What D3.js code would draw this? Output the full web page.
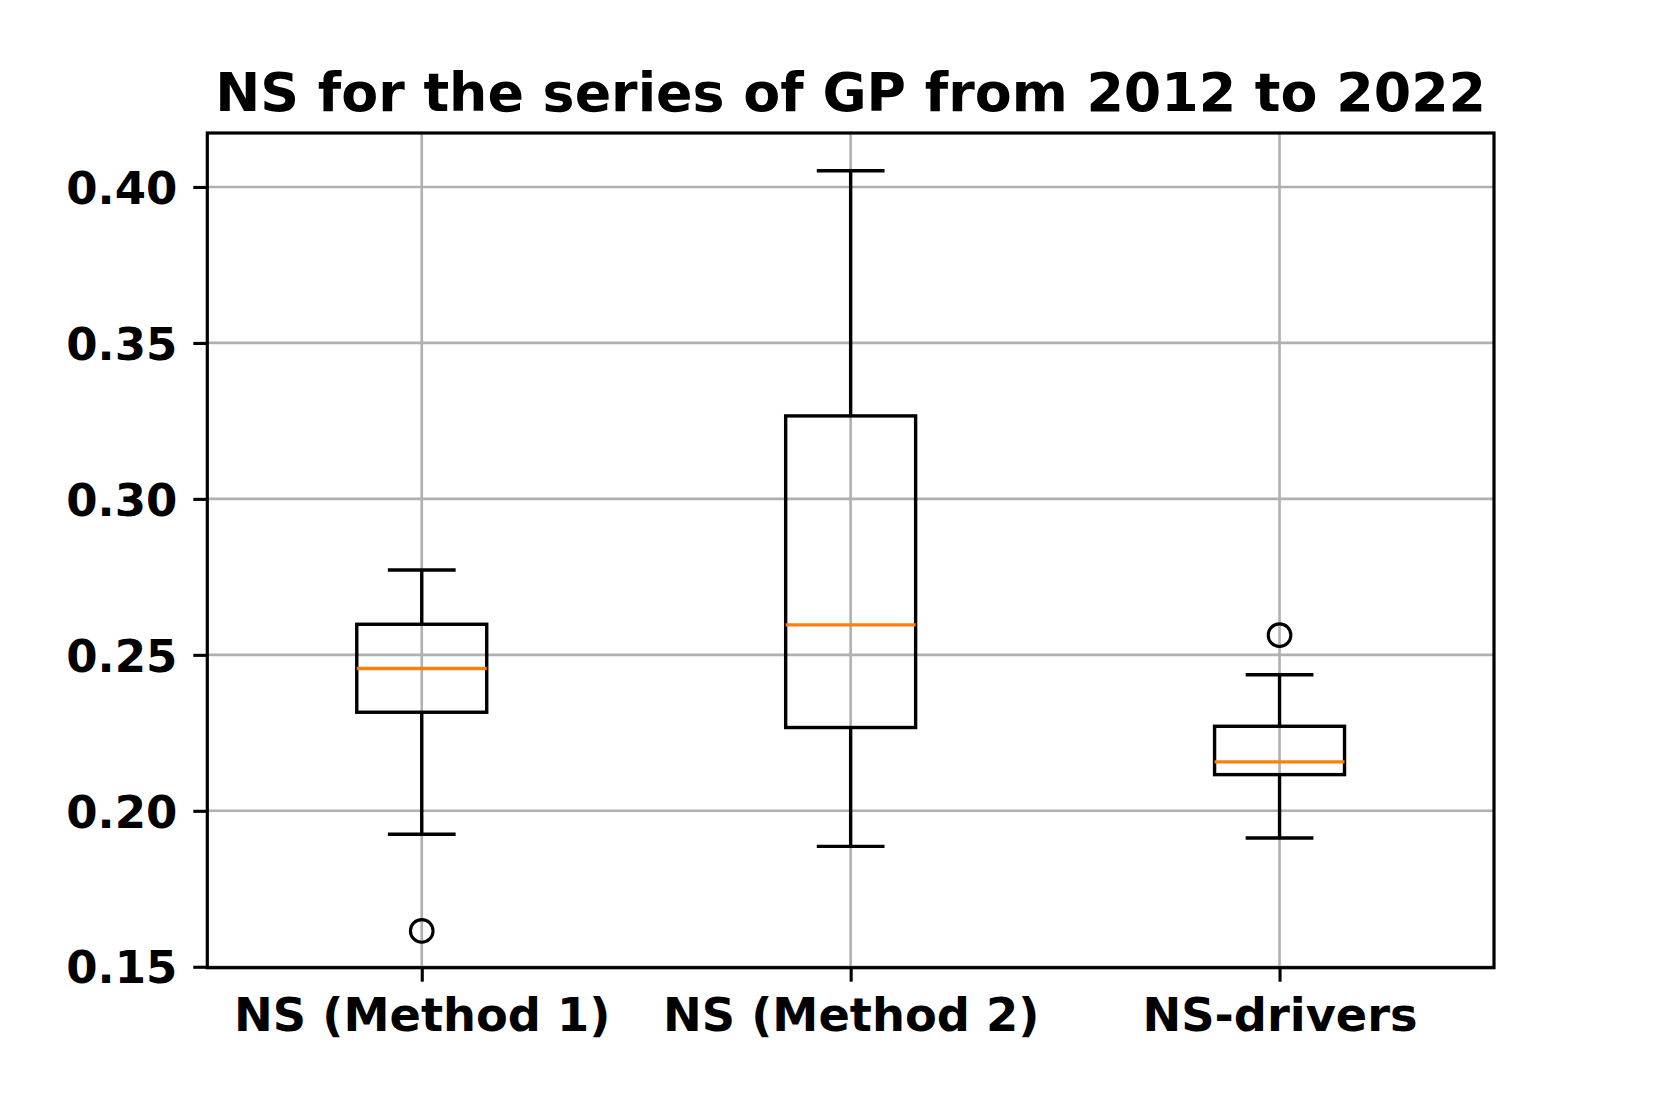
<!DOCTYPE html>
<html>
<head>
<meta charset="utf-8">
<script src="https://cdn.jsdelivr.net/npm/d3@7"></script>
<style>
  html, body { margin: 0; padding: 0; background: #ffffff; }
  svg { display: block; }
  text { font-family: "DejaVu Sans", sans-serif; font-weight: bold; fill: #000; }
</style>
</head>
<body>
<svg id="chart" width="1661" height="1107"></svg>
<script>
// ---- Data ----
const categories   = ["NS (Method 1)", "NS (Method 2)", "NS-drivers"];
const whiskerHigh  = [0.2772, 0.4052, 0.2436];
const q3Values     = [0.2598, 0.3266, 0.2271];
const medianValues = [0.2456, 0.2596, 0.2157];
const q1Values     = [0.2316, 0.2267, 0.2116];
const whiskerLow   = [0.1925, 0.1886, 0.1913];
const outliers     = [[0.1615], [], [0.2563]];
const yTickValues  = [0.15, 0.20, 0.25, 0.30, 0.35, 0.40];
const titleText    = "NS for the series of GP from 2012 to 2022";

// ---- Layout ----
const plot = { left: 207.3, right: 1494, top: 133, bottom: 967.7 };
const boxWidth = 0.303;   // in x-units
const capWidth = 0.158;

const svg = d3.select("#chart");

const x = d3.scaleLinear().domain([0.5, 3.5]).range([plot.left, plot.right]);
const y = d3.scaleLinear().domain([0.1497, 0.4173]).range([plot.bottom, plot.top]);

const positions = categories.map((c, i) => i + 1);

// Grid
const grid = svg.append("g");
grid.selectAll("line.hg").data(yTickValues).join("line")
  .attr("x1", plot.left).attr("x2", plot.right)
  .attr("y1", d => y(d)).attr("y2", d => y(d))
  .attr("stroke", "#b0b0b0").attr("stroke-width", 2.6);
grid.selectAll("line.vg").data(positions).join("line")
  .attr("x1", d => x(d)).attr("x2", d => x(d))
  .attr("y1", plot.top).attr("y2", plot.bottom)
  .attr("stroke", "#b0b0b0").attr("stroke-width", 2.6);

// Boxes
const data = categories.map((c, i) => ({
  pos: positions[i], hi: whiskerHigh[i], q3: q3Values[i], med: medianValues[i],
  q1: q1Values[i], lo: whiskerLow[i], out: outliers[i]
}));

const bx = svg.append("g");
const g = bx.selectAll("g.box").data(data).join("g").attr("class", "box");
const lw = 3.4;
// whiskers
g.append("line").attr("x1", d => x(d.pos)).attr("x2", d => x(d.pos))
  .attr("y1", d => y(d.q3)).attr("y2", d => y(d.hi))
  .attr("stroke", "#000").attr("stroke-width", lw);
g.append("line").attr("x1", d => x(d.pos)).attr("x2", d => x(d.pos))
  .attr("y1", d => y(d.q1)).attr("y2", d => y(d.lo))
  .attr("stroke", "#000").attr("stroke-width", lw);
// caps
g.append("line").attr("x1", d => x(d.pos - capWidth / 2)).attr("x2", d => x(d.pos + capWidth / 2))
  .attr("y1", d => y(d.hi)).attr("y2", d => y(d.hi))
  .attr("stroke", "#000").attr("stroke-width", lw);
g.append("line").attr("x1", d => x(d.pos - capWidth / 2)).attr("x2", d => x(d.pos + capWidth / 2))
  .attr("y1", d => y(d.lo)).attr("y2", d => y(d.lo))
  .attr("stroke", "#000").attr("stroke-width", lw);
// box
g.append("rect")
  .attr("x", d => x(d.pos - boxWidth / 2))
  .attr("width", d => x(d.pos + boxWidth / 2) - x(d.pos - boxWidth / 2))
  .attr("y", d => y(d.q3))
  .attr("height", d => y(d.q1) - y(d.q3))
  .attr("fill", "none").attr("stroke", "#000").attr("stroke-width", lw);
// median
g.append("line").attr("x1", d => x(d.pos - boxWidth / 2)).attr("x2", d => x(d.pos + boxWidth / 2))
  .attr("y1", d => y(d.med)).attr("y2", d => y(d.med))
  .attr("stroke", "#ff7f0e").attr("stroke-width", lw);
// outliers
g.each(function(d) {
  d3.select(this).selectAll("circle").data(d.out).join("circle")
    .attr("cx", x(d.pos)).attr("cy", v => y(v)).attr("r", 11.3)
    .attr("fill", "none").attr("stroke", "#000").attr("stroke-width", 3.1);
});

// Axes
const yAxis = d3.axisLeft(y).tickValues(yTickValues).tickFormat(d3.format(".2f"))
  .tickSize(14).tickPadding(16);
const yg = svg.append("g").attr("transform", `translate(${plot.left},0)`).call(yAxis);
yg.select(".domain").remove();
yg.selectAll(".tick line").attr("stroke", "#000").attr("stroke-width", 3.1);
yg.selectAll(".tick text").attr("font-size", 45).attr("font-family", "DejaVu Sans")
  .attr("font-weight", "bold").attr("fill", "#000").attr("dy", "0.36em");

const xAxis = d3.axisBottom(x).tickValues(positions).tickFormat((d, i) => categories[i])
  .tickSize(14).tickPadding(16);
const xg = svg.append("g").attr("transform", `translate(0,${plot.bottom})`).call(xAxis);
xg.select(".domain").remove();
xg.selectAll(".tick line").attr("stroke", "#000").attr("stroke-width", 3.1);
xg.selectAll(".tick text").attr("font-size", 46.3).attr("font-family", "DejaVu Sans")
  .attr("font-weight", "bold").attr("fill", "#000").attr("dy", "0.71em");

// Spines
svg.append("rect")
  .attr("x", plot.left).attr("y", plot.top)
  .attr("width", plot.right - plot.left).attr("height", plot.bottom - plot.top)
  .attr("fill", "none").attr("stroke", "#000").attr("stroke-width", 3.2);

// Title
svg.append("text")
  .attr("x", (plot.left + plot.right) / 2).attr("y", 110.5)
  .attr("text-anchor", "middle").attr("font-size", 53.8)
  .text(titleText);
</script>
</body>
</html>
